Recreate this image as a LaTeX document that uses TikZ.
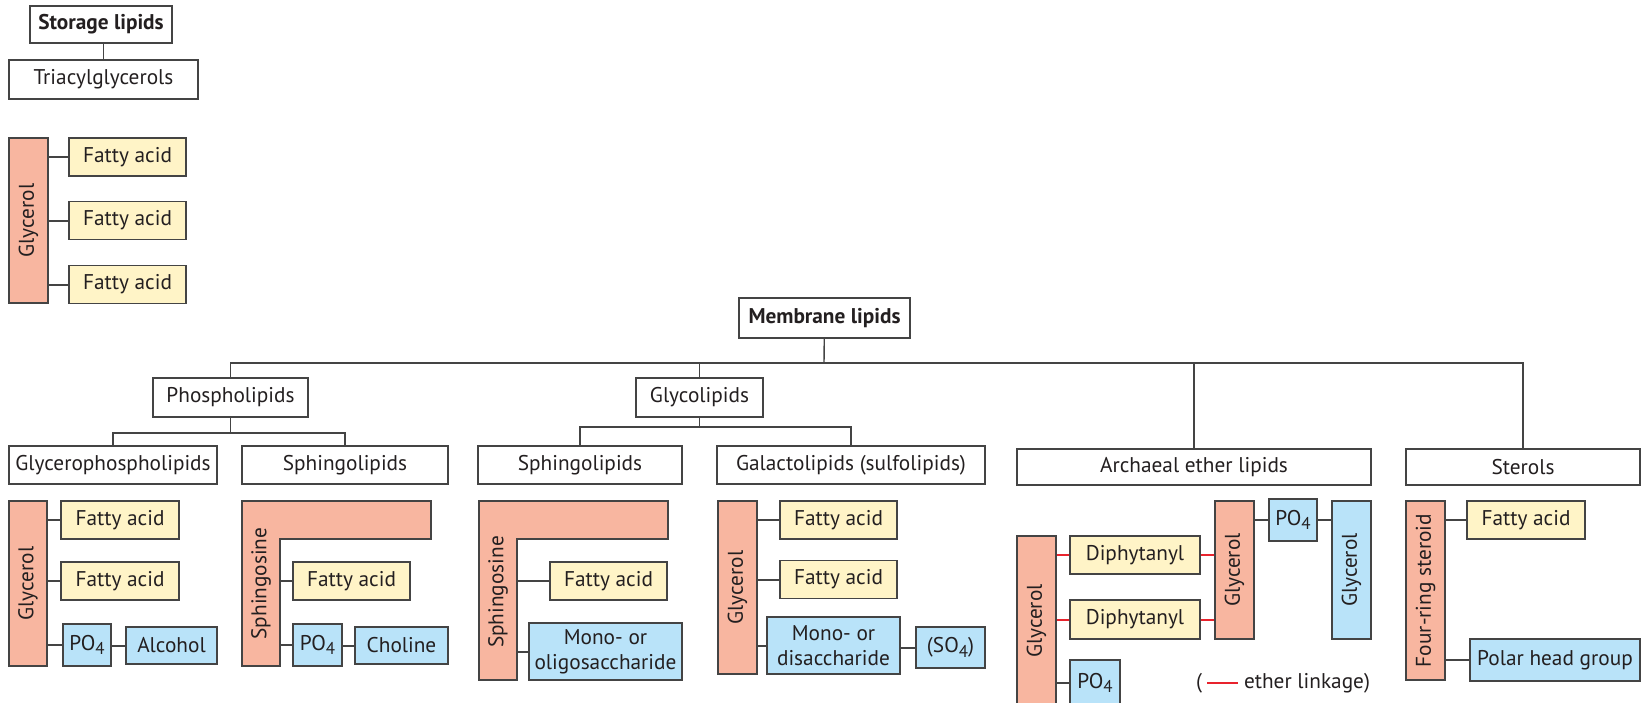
\documentclass[tikz,border=0pt]{standalone}
\usepackage{fontspec}
\usepackage{graphicx}
\setmainfont{PT Sans}
\definecolor{glycfill}{RGB}{248,182,160}
\definecolor{fafill}{RGB}{255,244,199}
\definecolor{polarfill}{RGB}{185,227,249}
\definecolor{edge}{RGB}{68,68,68}
\definecolor{ethred}{RGB}{232,35,45}
\definecolor{txt}{RGB}{35,31,32}
\newcommand{\figfont}{\fontsize{21.3}{25}\selectfont}
\newcommand{\up}[1]{\rotatebox{90}{#1}}
\newcommand{\lowsub}[1]{\raisebox{-0.45ex}{\fontsize{17}{17}\selectfont #1}}

\begin{document}
\begin{tikzpicture}[
    % GLOBAL CFG
    x=1pt, y=-1pt,
    text=txt,
    % Styles
    wh/.style 2 args={% Box size in px
        minimum width=#1pt,
        minimum height=#2pt,
    },
    box/.style={% Common box
        rectangle,
        draw=edge,
        line width=1.3pt,
        inner sep=0pt,
        font=\figfont,
        align=center,
    },
    head/.style={% For class names
        box,
        fill=white,
    },
    bighead/.style={% For top classes
        head,
        font=\figfont\bfseries,
    },
    glyc/.style={% For backbones
        box,
        fill=glycfill,
    },
    fatty/.style={% For fatty acids and chains
        box,
        fill=fafill,
    },
    polar/.style={% For polar heads
        box,
        fill=polarfill,
    },
    backbone/.style={% Label on an L-shaped backbone
        rectangle,
        inner sep=0pt,
        font=\figfont,
    },
    note/.style={
        inner sep=0pt,
        font=\figfont,
    },
    tree/.style={% Tree lines
        draw=edge,
        line width=1.4pt,
    },
    link/.style={% Bonds
        draw=edge,
        line width=2pt,
    },
    ether/.style={% Ether bonds
        draw=ethred,
        line width=2pt,
    },
    ]

    \useasboundingbox (0,0) rectangle (1641,702);

    % Draw storage lipids
    \node [bighead, wh={142}{37}] (storage) at (101,24.5) {Storage lipids};
    \node [head, wh={189}{39}] (tag) at (103.5,79.5) {Triacylglycerols};
    \draw [tree] (tag.north) -- (tag.north |- storage.south);

    \node [glyc, wh={39}{165}] (glyc1) at (28.5,220.5) {\up{Glycerol}};
    \node [fatty, wh={117}{38}] (fa1a) at (127.5,157) {Fatty acid};
    \node [fatty, wh={117}{38}] (fa1b) at (127.5,220.5) {Fatty acid};
    \node [fatty, wh={117}{38}] (fa1c) at (127.5,284.5) {Fatty acid};
    \draw [link] (fa1a.west) -- (fa1a.west -| glyc1.east);
    \draw [link] (fa1b.west) -- (fa1b.west -| glyc1.east);
    \draw [link] (fa1c.west) -- (fa1c.west -| glyc1.east);

    % Draw membrane lipids tree
    \node [bighead, wh={171}{40}] (membrane) at (824.5,318) {Membrane lipids};
    \node [head, wh={155}{39}] (phospho) at (230.5,397.5) {Phospholipids};
    \node [head, wh={127}{39}] (glyco) at (699.5,397.5) {Glycolipids};

    \node [head, wh={208}{38}] (gpl) at (113,465) {Glycerophospholipids};
    \node [head, wh={206}{38}] (sphp) at (345,465) {Sphingolipids};
    \node [head, wh={204}{38}] (sphg) at (580,465) {Sphingolipids};
    \node [head, wh={268}{38}] (galacto) at (851,465) {Galactolipids (sulfolipids)};
    \node [head, wh={354}{36}] (archaeal) at (1194,467) {Archaeal ether lipids};
    \node [head, wh={234}{36}] (sterols) at (1523,467) {Sterols};

    \coordinate (mbus) at (824,363);
    \coordinate (pbus) at (230.5,433);
    \coordinate (gbus) at (699.5,427);
    \draw [tree] (membrane) -- (mbus);
    \draw [tree] (phospho.north) |- (mbus);
    \draw [tree] (glyco.north) |- (mbus);
    \draw [tree] (archaeal.north) |- (mbus);
    \draw [tree] (sterols.north) |- (mbus);
    \draw [tree] (phospho) -- (pbus);
    \draw [tree] (gpl.north) |- (pbus);
    \draw [tree] (sphp.north) |- (pbus);
    \draw [tree] (glyco) -- (gbus);
    \draw [tree] (sphg.north) |- (gbus);
    \draw [tree] (galacto.north) |- (gbus);

    % Glycerophospholipids
    \node [glyc, wh={38}{165}] (glyc2) at (28,583.5) {\up{Glycerol}};
    \node [fatty, wh={118}{38}] (fa2a) at (120,520) {Fatty acid};
    \node [fatty, wh={118}{38}] (fa2b) at (120,581) {Fatty acid};
    \node [polar, wh={48}{42}] (po4a) at (87,645) {PO\lowsub{4}};
    \node [polar, wh={91}{37}] (alcohol) at (171.5,645.5) {Alcohol};
    \draw [link] (fa2a.west) -- (fa2a.west -| glyc2.east);
    \draw [link] (fa2b.west) -- (fa2b.west -| glyc2.east);
    \draw [link] (po4a.west) -- (po4a.west -| glyc2.east);
    \draw [link] (alcohol.west) -- (alcohol.west -| po4a.east);

    % Sphingolipids (phospho)
    \draw [glyc] (242,501) -- (431,501) -- (431,539) -- (280,539) -- (280,666) -- (242,666) -- cycle;
    \node [backbone, wh={38}{165}] (sph1) at (261,583.5) {\up{Sphingosine}};
    \node [fatty, wh={117}{38}] (fa3) at (351.5,581) {Fatty acid};
    \node [polar, wh={49}{42}] (po4b) at (317.5,645) {PO\lowsub{4}};
    \node [polar, wh={93}{37}] (choline) at (401.5,645.5) {Choline};
    \draw [link] (fa3.west) -- (fa3.west -| sph1.east);
    \draw [link] (po4b.west) -- (po4b.west -| sph1.east);
    \draw [link] (choline.west) -- (choline.west -| po4b.east);

    % Sphingolipids (glyco)
    \draw [glyc] (479,501) -- (668,501) -- (668,539) -- (517,539) -- (517,680) -- (479,680) -- cycle;
    \node [backbone, wh={38}{179}] (sph2) at (498,592) {\up{Sphingosine}};
    \node [fatty, wh={117}{38}] (fa4) at (608.5,581) {Fatty acid};
    \node [polar, wh={153}{57}] (oligo) at (605.5,651.5) {Mono- or\\oligosaccharide};
    \draw [link] (fa4.west) -- (fa4.west -| sph2.east);
    \draw [link] (oligo.west) -- (oligo.west -| sph2.east);

    % Galactolipids
    \node [glyc, wh={39}{173}] (glyc3) at (737.5,587.5) {\up{Glycerol}};
    \node [fatty, wh={117}{38}] (fa5a) at (838.5,520) {Fatty acid};
    \node [fatty, wh={117}{38}] (fa5b) at (838.5,579.5) {Fatty acid};
    \node [polar, wh={133}{57}] (disacch) at (833.5,645.5) {Mono- or\\disaccharide};
    \node [polar, wh={69}{41}] (so4) at (950.5,647.5) {(SO\lowsub{4})};
    \draw [link] (fa5a.west) -- (fa5a.west -| glyc3.east);
    \draw [link] (fa5b.west) -- (fa5b.west -| glyc3.east);
    \draw [link] (disacch.west) -- (disacch.west -| glyc3.east);
    \draw [link] (so4.west) -- (so4.west -| disacch.east);

    % Archaeal ether lipids
    \node [glyc, wh={39}{170}] (glyc4) at (1036.5,621) {\up{Glycerol}};
    \node [fatty, wh={130}{38}] (diph1) at (1135,555) {Diphytanyl};
    \node [fatty, wh={130}{39}] (diph2) at (1135,619.5) {Diphytanyl};
    \node [glyc, wh={39}{138}] (glyc5) at (1234.5,570) {\up{Glycerol}};
    \node [polar, wh={48}{42}] (po4c) at (1293,520) {PO\lowsub{4}};
    \node [polar, wh={39}{138}] (glyc6) at (1351.5,570) {\up{Glycerol}};
    \node [polar, wh={50}{46}] (po4d) at (1095,683) {PO\lowsub{4}};
    \draw [ether] (diph1.west) -- (diph1.west -| glyc4.east);
    \draw [ether] (diph2.west) -- (diph2.west -| glyc4.east);
    \draw [ether] (diph1.east) -- (diph1.east -| glyc5.west);
    \draw [ether] (diph2.east) -- (diph2.east -| glyc5.west);
    \draw [link] (po4c.west) -- (po4c.west -| glyc5.east);
    \draw [link] (po4c.east) -- (po4c.east -| glyc6.west);
    \draw [link] (po4d.west) -- (po4d.west -| glyc4.east);

    % Legend
    \node [note] (lpar) at (1199,683) {(};
    \node [note] (ltext) at (1307,683) {ether linkage)};
    \draw [ether, shorten <=5pt, shorten >=6pt] (lpar.east) -- (ltext.west);

    % Sterols
    \node [glyc, wh={39}{179}] (steroid) at (1425.5,590.5) {\up{Four-ring steroid}};
    \node [fatty, wh={118}{38}] (fa6) at (1526,520) {Fatty acid};
    \node [polar, wh={170}{42}] (polarhead) at (1555,660) {Polar head group};
    \draw [link] (fa6.west) -- (fa6.west -| steroid.east);
    \draw [link] (polarhead.west) -- (polarhead.west -| steroid.east);

\end{tikzpicture}
\end{document}
